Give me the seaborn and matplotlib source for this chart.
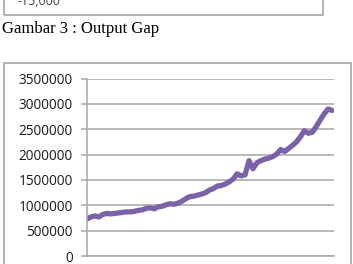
import matplotlib
matplotlib.use("Agg")
import matplotlib.pyplot as plt
from matplotlib.patches import Rectangle
import seaborn as sns
import pandas as pd

# Data (series index vs. value)
values = [0.73, 0.77, 0.79, 0.77, 0.82, 0.84, 0.83, 0.84, 0.85, 0.86,
          0.87, 0.87, 0.88, 0.90, 0.91, 0.94, 0.95, 0.93, 0.97, 0.98,
          1.01, 1.03, 1.02, 1.04, 1.08, 1.13, 1.17, 1.18, 1.20, 1.22,
          1.25, 1.30, 1.33, 1.38, 1.39, 1.42, 1.46, 1.52, 1.62, 1.58,
          1.60, 1.88, 1.72, 1.84, 1.88, 1.91, 1.93, 1.96, 2.01, 2.10,
          2.06, 2.12, 2.18, 2.25, 2.35, 2.47, 2.42, 2.44, 2.55, 2.68,
          2.80, 2.90, 2.87]
values = [v * 1_000_000 for v in values]
y_ticks = [0, 500000, 1000000, 1500000, 2000000, 2500000, 3000000, 3500000]
caption = "Gambar 3 : Output Gap"
prev_label = "-15,000"

df = pd.DataFrame({"t": range(len(values)), "value": values})

sns.set_theme(style="white")
plt.rcParams["font.family"] = ["Open Sans", "DejaVu Sans"]

W, H = 353, 264
fig = plt.figure(figsize=(W / 100, H / 100), dpi=100)

def px_rect(x0, y0, x1, y1, **kw):
    r = Rectangle((x0 / W, 1 - y1 / H), (x1 - x0) / W, (y1 - y0) / H,
                  transform=fig.transFigure, fill=False, **kw)
    fig.add_artist(r)

# previous chart box remnant at top
px_rect(3.5, -20, 323, 15, edgecolor="#a6a6a6", linewidth=1.2)
fig.text(18 / W, 1 - (-5) / H, prev_label, fontsize=9, color="#404040",
         ha="left", va="top")
# caption
fig.text(2 / W, 1 - 29 / H, caption, fontsize=12, color="#000000",
         family=["Liberation Serif", "DejaVu Serif"], ha="left", va="center")
# chart box
px_rect(3.5, 63, 351, 290, edgecolor="#a6a6a6", linewidth=1.2)

ax = fig.add_axes([87 / W, 1 - 256 / H, (334 - 87) / W, (256 - 78.5) / H])
sns.lineplot(data=df, x="t", y="value", ax=ax, color="#7b62a8",
             linewidth=3.8, solid_capstyle="round", solid_joinstyle="round")

ax.set_xlim(0, len(values) - 1 + 0.5)
ax.set_ylim(0, 3500000)
ax.set_yticks(y_ticks)
ax.set_yticklabels([str(v) for v in y_ticks], fontsize=9.8, color="#1a1a1a")
ax.set_xticks([])
ax.set_xlabel("")
ax.set_ylabel("")
ax.grid(axis="y", color="#a6a6a6", linewidth=1.1)
ax.set_axisbelow(True)
for s in ["top", "right"]:
    ax.spines[s].set_visible(False)
for s in ["left", "bottom"]:
    ax.spines[s].set_color("#a6a6a6")
    ax.spines[s].set_linewidth(1.1)
ax.tick_params(axis="y", which="both", left=True, length=4, width=1.1,
               color="#a6a6a6", pad=6)
ax.patch.set_alpha(0)

fig.savefig("out.png", dpi=100)
